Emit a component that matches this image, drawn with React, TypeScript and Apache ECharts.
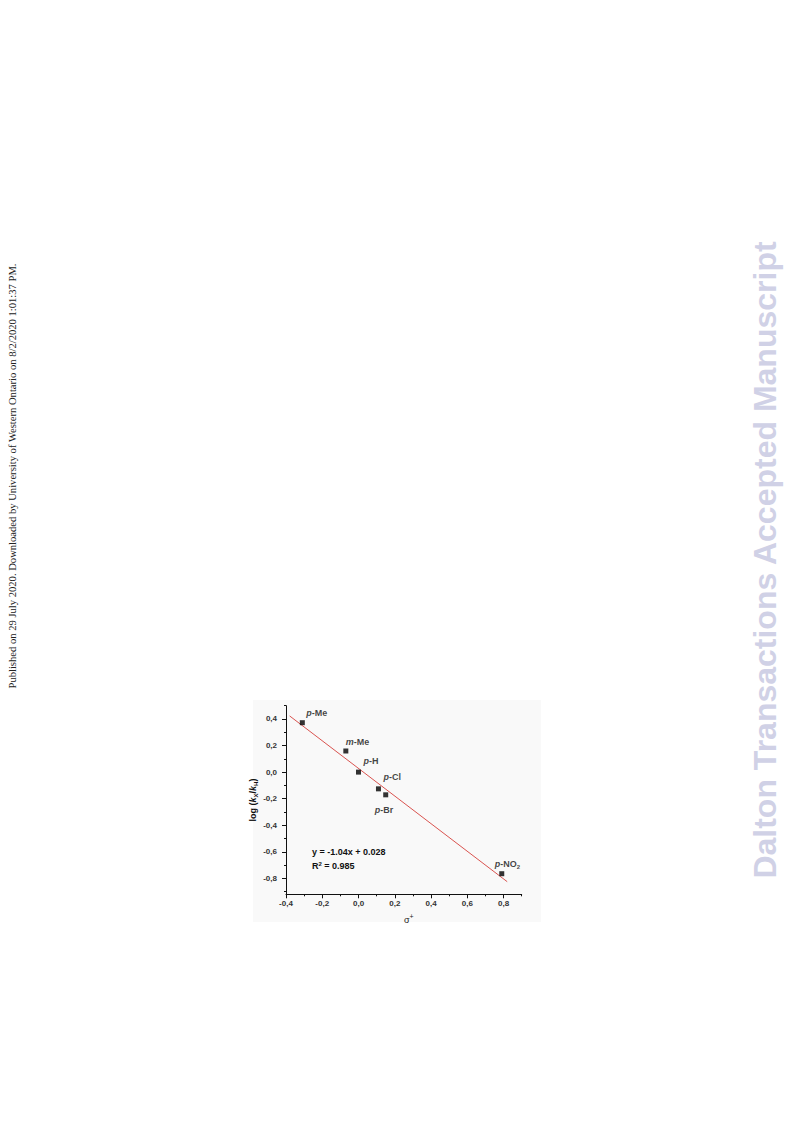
import React, { useEffect, useRef } from "react";
import * as echarts from "echarts";

// ---- data ----
const substituents = ["p-Me", "m-Me", "p-H", "p-Cl", "p-Br", "p-NO2"];
const sigmaPlus = [-0.31, -0.07, 0.0, 0.11, 0.15, 0.79];
const logRatio = [0.372, 0.159, 0.0, -0.126, -0.171, -0.765];
const fitX = [-0.38, 0.82];
const fitY = [0.423, -0.825];
const xMajorTicks = [-0.4, -0.2, 0.0, 0.2, 0.4, 0.6, 0.8];
const xMinorTicks = [-0.3, -0.1, 0.1, 0.3, 0.5, 0.7, 0.9];
const yMajorTicks = [-0.8, -0.6, -0.4, -0.2, 0.0, 0.2, 0.4];
const yMinorTicks = [-0.9, -0.7, -0.5, -0.3, -0.1, 0.1, 0.3, 0.5];
const equationText = "y = -1.04x + 0.028";
const r2Value = "0.985";
const sideNote =
  "Published on 29 July 2020. Downloaded by University of Western Ontario on 8/2/2020 1:01:37 PM.";
const watermark = "Dalton Transactions Accepted Manuscript";

const FONT = "'Liberation Sans', Arial, sans-serif";

// label placement (style only)
const labelOffsets: Record<string, [number, number]> = {
  "p-Me": [4, -10],
  "m-Me": [0, -9],
  "p-H": [5, -11],
  "p-Cl": [5, -12],
  "p-Br": [-11, 15],
  "p-NO2": [-7, -10],
};

function labelRich(name: string): string {
  const [pre, rest] = [name.slice(0, 1), name.slice(1)];
  if (rest.endsWith("2") && rest.includes("NO")) {
    return `{i|${pre}}{b|${rest.slice(0, -1)}}{sub|2}`;
  }
  return `{i|${pre}}{b|${rest}}`;
}

const fmt = (v: number) => (Math.abs(v) < 1e-9 ? 0 : v).toFixed(1).replace(".", ",");

export default function App() {
  const ref = useRef<HTMLDivElement>(null);
  useEffect(() => {
    document.body.style.margin = "0";
    if (!ref.current) return;
    const chart = echarts.init(ref.current, null, { renderer: "svg" });

    const richLbl = {
      i: { fontStyle: "italic", fontWeight: "bold", fontSize: 9, fontFamily: FONT, color: "#111" },
      b: { fontWeight: "bold", fontSize: 9, fontFamily: FONT, color: "#111" },
      sub: { fontWeight: "bold", fontSize: 6, fontFamily: FONT, color: "#111", padding: [6, 0, 0, 0] },
    };

    const scatterData = substituents.map((n, i) => ({
      name: n,
      value: [sigmaPlus[i], logRatio[i]],
      label: {
        show: true,
        position: "inside",
        align: "left",
        verticalAlign: "middle",
        offset: labelOffsets[n],
        formatter: labelRich(n),
        rich: richLbl,
      },
    }));

    const gridLeft = 286;
    const gridTop = 705.7;
    const gridRight = 793 - 521.7;
    const gridBottom = 1121 - 894.3;

    const tickLbl = {
      fontSize: 8,
      fontWeight: "bold",
      fontFamily: FONT,
      color: "#333",
    };

    chart.setOption({
      animation: false,
      backgroundColor: "#ffffff",
      grid: { left: gridLeft, top: gridTop, right: gridRight, bottom: gridBottom, containLabel: false },
      xAxis: [
        {
          type: "value",
          position: "bottom",
          min: -0.4,
          max: 0.9,
          name: "{s|σ}{sup|+}",
          nameLocation: "middle",
          nameGap: 19,
          nameTextStyle: {
            rich: {
              s: { fontSize: 9, fontFamily: FONT, color: "#222", padding: [0, 0, 0, 10] },
              sup: { fontSize: 7, fontFamily: FONT, color: "#222", padding: [0, 0, 7, 0] },
            },
          },
          axisLine: { show: true, onZero: false, lineStyle: { color: "#111", width: 1 } },
          axisTick: { show: true, inside: false, length: 4, customValues: xMajorTicks, lineStyle: { color: "#111" } },
          axisLabel: { show: true, customValues: xMajorTicks, formatter: fmt, margin: 5, ...tickLbl },
          splitLine: { show: false },
        },
        {
          type: "value",
          position: "bottom",
          offset: 0,
          min: -0.4,
          max: 0.9,
          axisLine: { show: false, onZero: false },
          axisTick: { show: true, inside: false, length: 2, customValues: xMinorTicks, lineStyle: { color: "#111" } },
          axisLabel: { show: false },
          splitLine: { show: false },
        },
      ],
      yAxis: [
        {
          type: "value",
          position: "left",
          min: -0.92,
          max: 0.5,
          name: "{b|log (}{i|k}{sub|X}{b|/}{i|k}{sub|H}{b|)}",
          nameLocation: "middle",
          nameGap: 25,
          nameRotate: 90,
          nameTextStyle: {
            rich: {
              b: { fontSize: 9, fontWeight: "bold", fontFamily: FONT, color: "#111" },
              i: { fontSize: 9, fontWeight: "bold", fontStyle: "italic", fontFamily: FONT, color: "#111" },
              sub: { fontSize: 6, fontWeight: "bold", fontFamily: FONT, color: "#111", padding: [6, 0, 0, 0] },
            },
          },
          axisLine: { show: true, onZero: false, lineStyle: { color: "#111", width: 1 } },
          axisTick: { show: true, inside: false, length: 4, customValues: yMajorTicks, lineStyle: { color: "#111" } },
          axisLabel: { show: true, customValues: yMajorTicks, formatter: fmt, margin: 9, ...tickLbl },
          splitLine: { show: false },
        },
        {
          type: "value",
          position: "left",
          offset: 0,
          min: -0.92,
          max: 0.5,
          axisLine: { show: false, onZero: false },
          axisTick: { show: true, inside: false, length: 2, customValues: yMinorTicks, lineStyle: { color: "#111" } },
          axisLabel: { show: false },
          splitLine: { show: false },
        },
      ],
      series: [
        {
          type: "line",
          data: fitX.map((x, i) => [x, fitY[i]]),
          symbol: "none",
          lineStyle: { color: "#d9534f", width: 1 },
          silent: true,
          z: 2,
        },
        {
          type: "scatter",
          symbol: "rect",
          symbolSize: 5,
          itemStyle: { color: "#000" },
          data: scatterData,
          z: 3,
        },
      ],
      graphic: [
        {
          type: "rect",
          shape: { x: 253, y: 700, width: 288, height: 222 },
          style: { fill: "#f9f9f9" },
          z: -10,
          silent: true,
        },
        {
          type: "text",
          x: 312,
          y: 852,
          style: {
            text: equationText,
            fontSize: 9,
            fontWeight: "bold",
            fontFamily: FONT,
            fill: "#111",
            textVerticalAlign: "middle",
          },
        },
        {
          type: "text",
          x: 312,
          y: 866,
          style: {
            text: "{b|R}{sup|2}{b| = " + r2Value + "}",
            fontSize: 9,
            fontWeight: "bold",
            fontFamily: FONT,
            fill: "#111",
            textVerticalAlign: "middle",
            rich: {
              b: { fontSize: 9, fontWeight: "bold", fontFamily: FONT, fill: "#111" },
              sup: { fontSize: 6, fontWeight: "bold", fontFamily: FONT, fill: "#111", padding: [0, 0, 5, 0] },
            },
          },
        },
        {
          type: "text",
          x: 765,
          y: 560,
          rotation: Math.PI / 2,
          style: {
            text: watermark,
            fontSize: 32,
            fontWeight: "bold",
            fontFamily: FONT,
            fill: "#d0d1e6",
            textAlign: "center",
            textVerticalAlign: "middle",
          },
        },
        {
          type: "text",
          x: 12,
          y: 476,
          rotation: Math.PI / 2,
          style: {
            text: sideNote,
            fontSize: 10.6,
            fontFamily: "'Liberation Serif', 'Times New Roman', serif",
            fill: "#222",
            textAlign: "center",
            textVerticalAlign: "middle",
          },
        },
      ],
    });
    return () => chart.dispose();
  }, []);

  return (
    <div
      ref={ref}
      style={{ position: "absolute", left: 0, top: 0, width: 793, height: 1121 }}
    />
  );
}
